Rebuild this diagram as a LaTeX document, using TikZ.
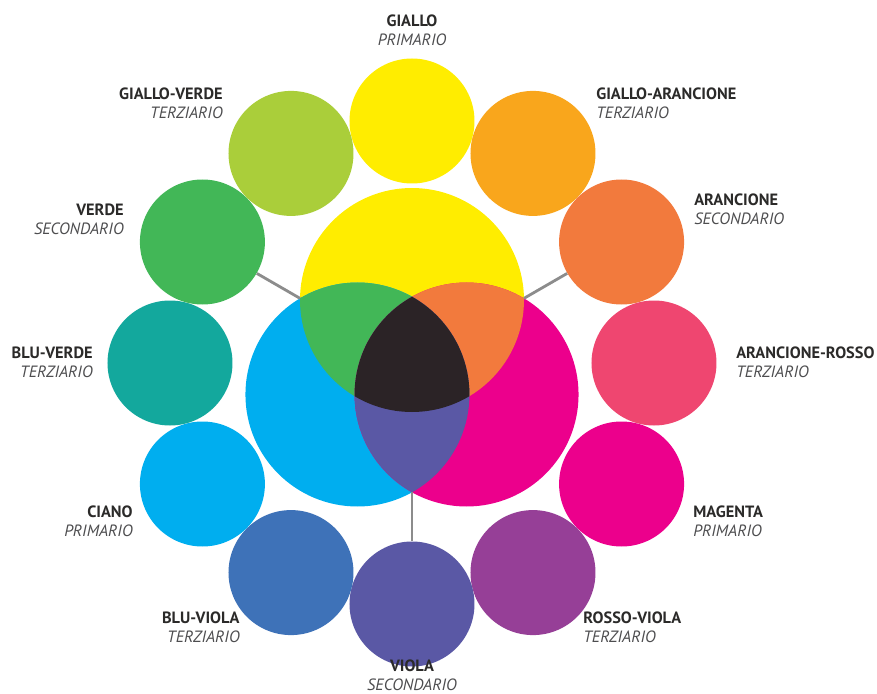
\documentclass[tikz,border=0pt]{standalone}
\usepackage{fontspec}
\setmainfont{PT Sans}
\usetikzlibrary{positioning}

\definecolor{giallo}{HTML}{FFED00}
\definecolor{gialloarancio}{HTML}{F9A61C}
\definecolor{arancione}{HTML}{F27A3D}
\definecolor{arancrosso}{HTML}{EF4670}
\definecolor{magenta}{HTML}{EC008C}
\definecolor{rossoviola}{HTML}{963F97}
\definecolor{viola}{HTML}{5A58A5}
\definecolor{bluviola}{HTML}{3E72B8}
\definecolor{ciano}{HTML}{00AEEF}
\definecolor{bluverde}{HTML}{13A89D}
\definecolor{verde}{HTML}{42B757}
\definecolor{gialloverde}{HTML}{AACE3A}
\definecolor{nero}{HTML}{2B2326}
\definecolor{testo}{HTML}{2B2A29}
\definecolor{sotto}{HTML}{4D4D4F}

\newcommand{\lab}[2]{{\bfseries\color{testo}#1}\\{\itshape\color{sotto}#2}}

\begin{document}
\begin{tikzpicture}[wheel node/.style={circle,minimum size=2.5cm,inner sep=0pt},
  name label/.style={inner sep=0pt,font=\fontsize{9.3}{11}\selectfont},
  link/.style={draw=black!45,line width=1.6pt}]
  \useasboundingbox (-8.24,-6.62) rectangle (9.30,7.26);

  % outer ring of twelve colours
  \node[wheel node,fill=giallo] (g) at (90:4.84) {};
  \node[wheel node,fill=gialloarancio] (ga) at (60:4.84) {};
  \node[wheel node,fill=arancione] (a) at (30:4.84) {};
  \node[wheel node,fill=arancrosso] (ar) at (0:4.84) {};
  \node[wheel node,fill=magenta] (m) at (-30:4.84) {};
  \node[wheel node,fill=rossoviola] (rv) at (-60:4.84) {};
  \node[wheel node,fill=viola] (v) at (-90:4.82) {};
  \node[wheel node,fill=bluviola] (bv) at (-120:4.84) {};
  \node[wheel node,fill=ciano] (c) at (-150:4.84) {};
  \node[wheel node,fill=bluverde] (bve) at (180:4.84) {};
  \node[wheel node,fill=verde] (ve) at (150:4.84) {};
  \node[wheel node,fill=gialloverde] (gv) at (120:4.84) {};

  % the three primaries and their overlaps
  \fill[giallo] (90:1.26) circle (2.24);
  \fill[ciano] (210:1.26) circle (2.24);
  \fill[magenta] (-30:1.26) circle (2.24);
  \begin{scope}
    \clip (90:1.26) circle (2.24);
    \fill[verde] (210:1.26) circle (2.24);
    \fill[arancione] (-30:1.26) circle (2.24);
  \end{scope}
  \begin{scope}
    \clip (210:1.26) circle (2.24);
    \fill[viola] (-30:1.26) circle (2.24);
    \clip (-30:1.26) circle (2.24);
    \fill[nero] (90:1.26) circle (2.24);
  \end{scope}

  \coordinate (yc) at (150:2.586);
  \coordinate (ym) at (30:2.586);
  \coordinate (cm) at (-90:2.586);
  \draw[link] (ve) -- (yc);
  \draw[link] (a) -- (ym);
  \draw[link] (v) -- (cm);

  % names
  \node[name label,align=center] (lg) at (0,6.66) {\lab{GIALLO}{PRIMARIO}};
  \node[name label,align=left,anchor=west] (lga) at (3.68,5.19) {\lab{GIALLO-ARANCIONE}{TERZIARIO}};
  \node[name label,align=left,anchor=west] (la) at (5.64,3.07) {\lab{ARANCIONE}{SECONDARIO}};
  \node[name label,align=left,anchor=west] (lar) at (6.48,0.02) {\lab{ARANCIONE-ROSSO}{TERZIARIO}};
  \node[name label,align=left,anchor=west] (lm) at (5.62,-3.17) {\lab{MAGENTA}{PRIMARIO}};
  \node[name label,align=left,anchor=west] (lrv) at (3.42,-5.29) {\lab{ROSSO-VIOLA}{TERZIARIO}};
  \node[name label,align=center] (lv) at (0,-6.25) {\lab{VIOLA}{SECONDARIO}};
  \node[name label,align=right,anchor=east] (lbv) at (-3.44,-5.29) {\lab{BLU-VIOLA}{TERZIARIO}};
  \node[name label,align=right,anchor=east] (lc) at (-5.58,-3.17) {\lab{CIANO}{PRIMARIO}};
  \node[name label,align=right,anchor=east] (lbve) at (-6.38,0.02) {\lab{BLU-VERDE}{TERZIARIO}};
  \node[name label,align=right,anchor=east] (lve) at (-5.76,2.88) {\lab{VERDE}{SECONDARIO}};
  \node[name label,align=right,anchor=east] (lgv) at (-3.78,5.19) {\lab{GIALLO-VERDE}{TERZIARIO}};
\end{tikzpicture}
\end{document}
